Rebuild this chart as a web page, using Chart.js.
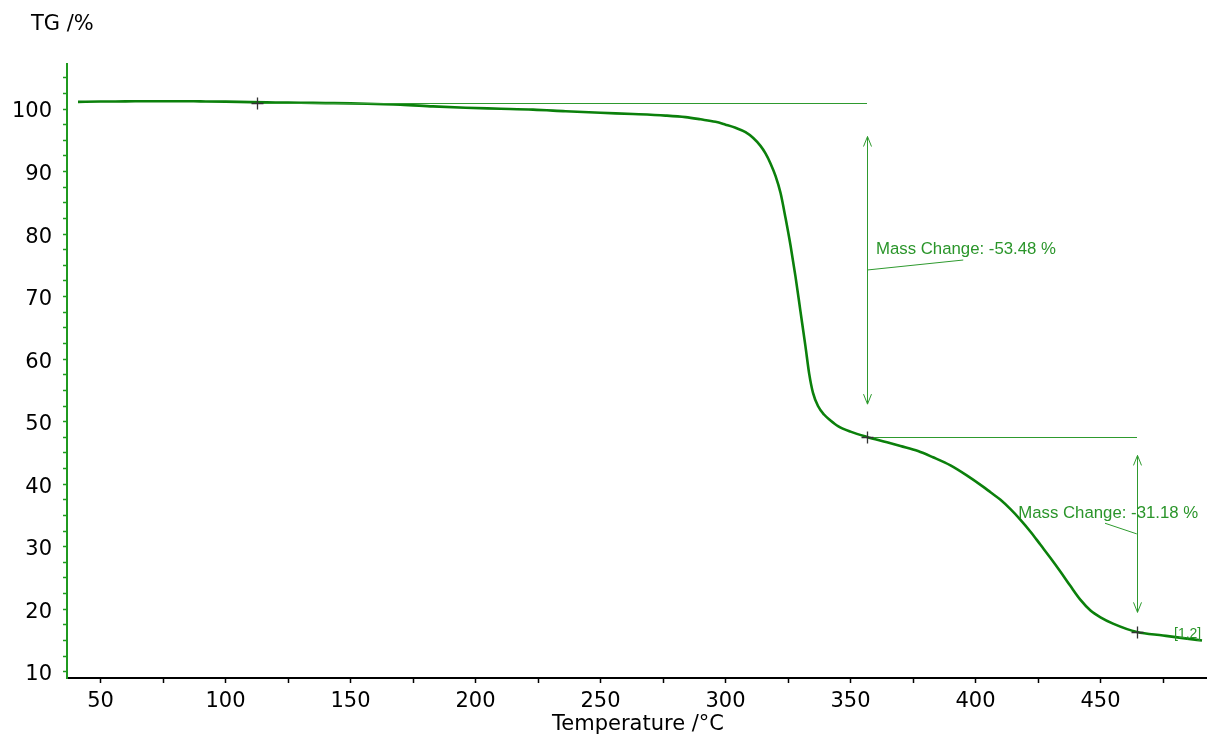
<!DOCTYPE html>
<html><head><meta charset="utf-8">
<script src="https://cdn.jsdelivr.net/npm/chart.js@4.4.1/dist/chart.umd.min.js"></script>
<style>html,body{margin:0;padding:0;background:#fff;overflow:hidden}canvas{display:block}</style>
</head><body>
<canvas id="c" width="1207" height="736"></canvas>
<script>
// ---- data ----
const temps = [41, 50, 60, 70, 80, 90, 100, 110, 120, 130, 140, 150, 160, 170, 183, 196, 210, 223, 236, 250, 263, 276, 284, 290, 296, 300, 304, 308, 311, 314, 316, 318, 320, 322, 324, 326, 328, 330, 332, 333.5, 335, 337, 339.5, 342, 345, 350, 356.6, 364.6, 370, 377, 383, 390, 396.5, 403, 406, 410, 414, 418, 422, 426, 430, 434, 438, 442, 446, 450, 455, 464.6, 475, 484.6, 490.6];
const tg = [101.15, 101.2, 101.22, 101.25, 101.25, 101.22, 101.18, 101.1, 101.05, 101.0, 100.95, 100.9, 100.8, 100.7, 100.42, 100.2, 100.05, 99.9, 99.65, 99.4, 99.2, 98.95, 98.7, 98.35, 97.95, 97.5, 97.0, 96.3, 95.4, 94.1, 92.9, 91.3, 89.3, 86.6, 82.6, 78.2, 73.2, 67.6, 62.0, 57.6, 54.6, 52.5, 51.1, 50.2, 49.3, 48.4, 47.55, 46.7, 46.1, 45.3, 44.3, 43.0, 41.4, 39.6, 38.7, 37.5, 36.0, 34.3, 32.4, 30.3, 28.2, 26.0, 23.7, 21.5, 19.8, 18.7, 17.7, 16.35, 15.8, 15.3, 15.0];

const xTickValues = [50, 75, 100, 125, 150, 175, 200, 225, 250, 275, 300, 325, 350, 375, 400, 425, 450, 475];
const xTickLabels = ['50', '100', '150', '200', '250', '300', '350', '400', '450'];
const yTickValues = [10, 12.5, 15, 17.5, 20, 22.5, 25, 27.5, 30, 32.5, 35, 37.5, 40, 42.5, 45, 47.5, 50, 52.5, 55, 57.5, 60, 62.5, 65, 67.5, 70, 72.5, 75, 77.5, 80, 82.5, 85, 87.5, 90, 92.5, 95, 97.5, 100, 102.5, 105];
const yTickLabels = ['10', '20', '30', '40', '50', '60', '70', '80', '90', '100'];

// step evaluation markers (temperature, mass %)
const markerTemps = [112.6, 356.6, 464.6];
const markerLevels = [100.96, 47.55, 16.35];
const massChangeLabels = ['Mass Change: -53.48 %', 'Mass Change: -31.18 %'];
const arrowTemps = [356.6, 464.5];
const arrowTops = [95.6, 44.6];
const arrowBottoms = [52.8, 19.5];
const labelAnchorT = [360.2, 417.1];
const labelAnchorV = [76.8, 34.6];
const leaderFromT = [356.6, 451.8];
const leaderFromV = [74.25, 33.75];
const leaderToT = [395.1, 464.5];
const leaderToV = [75.85, 32.05];
const curveTag = '[1,2]';
const curveTagT = 479.4;
const curveTagV = 15.4;

// ---- styles ----
const CURVE = '#0b800b';
const AXIS_GREEN = '#1f9a1f';
const ANN_GREEN = '#2e9a2e';
const ANN_TEXT = '#2a952a';
const TICK_FONT = {family: 'DejaVu Sans', size: 21};

const annotPlugin = {
  id: 'annot',
  afterDatasetsDraw(chart) {
    const {ctx, scales: {x, y}} = chart;
    const px = v => x.getPixelForValue(v);
    const py = v => y.getPixelForValue(v);
    ctx.save();
    ctx.lineWidth = 1;
    ctx.strokeStyle = ANN_GREEN;
    const hl = (t1, t2, v) => {
      ctx.beginPath();
      ctx.moveTo(Math.round(px(t1)), Math.round(py(v)) + 0.5);
      ctx.lineTo(Math.round(px(t2)), Math.round(py(v)) + 0.5);
      ctx.stroke();
    };
    hl(markerTemps[0], markerTemps[1], markerLevels[0]);
    hl(markerTemps[1], markerTemps[2], markerLevels[1]);
    for (let i = 0; i < arrowTemps.length; i++) {
      const ax = Math.round(px(arrowTemps[i])) + 0.5;
      const yt = py(arrowTops[i]), yb = py(arrowBottoms[i]);
      ctx.beginPath();
      ctx.moveTo(ax, yt); ctx.lineTo(ax, yb);
      ctx.moveTo(ax - 4, yt + 10); ctx.lineTo(ax, yt); ctx.lineTo(ax + 4, yt + 10);
      ctx.moveTo(ax - 4, yb - 10); ctx.lineTo(ax, yb); ctx.lineTo(ax + 4, yb - 10);
      ctx.stroke();
      ctx.beginPath();
      ctx.moveTo(px(leaderFromT[i]), py(leaderFromV[i]));
      ctx.lineTo(px(leaderToT[i]), py(leaderToV[i]));
      ctx.stroke();
      ctx.fillStyle = ANN_TEXT;
      ctx.font = "16.8px 'Liberation Sans', Arial, sans-serif";
      ctx.textBaseline = 'alphabetic';
      ctx.textAlign = 'left';
      ctx.fillText(massChangeLabels[i], px(labelAnchorT[i]), py(labelAnchorV[i]));
    }
    ctx.font = "14px 'Liberation Sans', Arial, sans-serif";
    ctx.fillStyle = ANN_TEXT;
    ctx.fillText(curveTag, px(curveTagT), py(curveTagV));
    ctx.strokeStyle = '#333';
    ctx.lineWidth = 1.3;
    for (let i = 0; i < markerTemps.length; i++) {
      const cx = Math.round(px(markerTemps[i])) + 0.5, cy = Math.round(py(markerLevels[i])) + 0.5;
      ctx.beginPath();
      ctx.moveTo(cx - 6, cy); ctx.lineTo(cx + 6, cy);
      ctx.moveTo(cx, cy - 6); ctx.lineTo(cx, cy + 6);
      ctx.stroke();
    }
    ctx.restore();
  },
  afterDraw(chart) {
    const {ctx} = chart;
    ctx.save();
    ctx.fillStyle = '#000';
    ctx.font = "21px 'DejaVu Sans'";
    ctx.textBaseline = 'alphabetic';
    ctx.textAlign = 'left';
    ctx.fillText('TG /%', 31, 30);
    ctx.textAlign = 'center';
    const cx = (chart.chartArea.left + chart.chartArea.right) / 2;
    ctx.fillText('Temperature /°C', cx + 1, 730);
    ctx.restore();
  }
};

new Chart(document.getElementById('c'), {
  type: 'line',
  data: {
    datasets: [{
      data: temps.map((t, i) => ({x: t, y: tg[i]})),
      borderColor: CURVE,
      borderWidth: 2.6,
      pointRadius: 0,
      fill: false,
      cubicInterpolationMode: 'monotone'
    }]
  },
  options: {
    responsive: false,
    animation: false,
    layout: {padding: {top: 64, left: 0, right: 0, bottom: 0}},
    plugins: {legend: {display: false}, tooltip: {enabled: false}, title: {display: false}},
    scales: {
      x: {
        type: 'linear',
        min: 36.6, max: 492.6,
        afterFit: s => { s.height = 58; },
        afterBuildTicks: s => { s.ticks = xTickValues.map(v => ({value: v})); },
        border: {display: true, color: '#000', width: 2},
        grid: {display: true, drawOnChartArea: false, drawTicks: true, tickLength: 5, color: '#000', tickColor: '#000', tickWidth: 1.5},
        ticks: {
          autoSkip: false, maxRotation: 0, minRotation: 0, padding: 6, color: '#000', font: TICK_FONT,
          callback: v => xTickLabels.includes(String(v)) ? String(v) : ''
        }
      },
      y: {
        type: 'linear',
        min: 9, max: 107.2,
        afterFit: s => { s.width = 67; },
        afterBuildTicks: s => { s.ticks = yTickValues.map(v => ({value: v})); },
        border: {display: true, color: AXIS_GREEN, width: 2},
        grid: {display: true, drawOnChartArea: false, drawTicks: true, tickLength: 4, color: AXIS_GREEN, tickColor: AXIS_GREEN, tickWidth: 1.5},
        ticks: {
          autoSkip: false, padding: 11, labelOffset: 3, color: '#000', font: TICK_FONT,
          callback: v => yTickLabels.includes(String(v)) ? String(v) : ''
        }
      }
    }
  },
  plugins: [annotPlugin]
});
</script>
</body></html>
